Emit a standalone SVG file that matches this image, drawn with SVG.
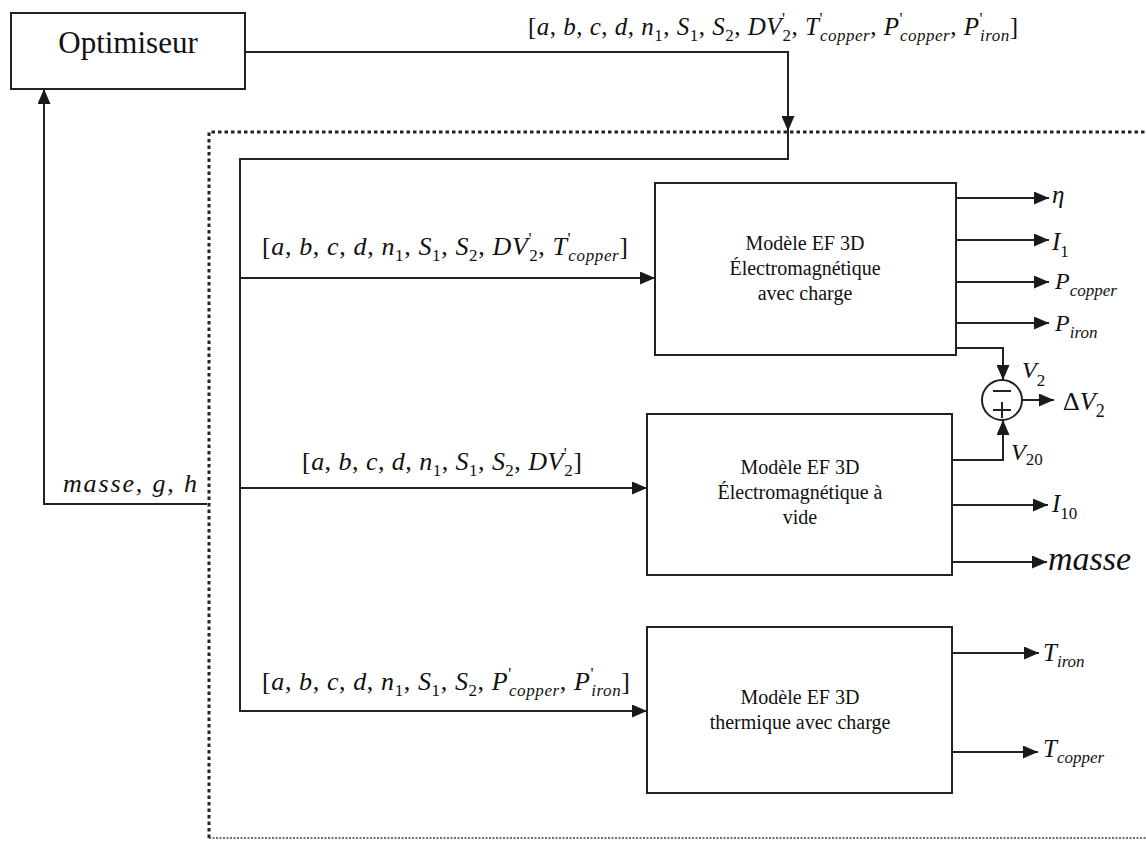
<svg xmlns="http://www.w3.org/2000/svg" width="1146" height="841" viewBox="0 0 1146 841">
<style>
.m{font-family:"Liberation Serif","Times New Roman",serif;font-style:italic;font-size:26px;fill:#111}
.m2{font-size:25px}
.u{font-style:normal}
.s{font-size:17px}
.bx{fill:#fff;stroke:#222;stroke-width:2}
.ln{fill:none;stroke:#222;stroke-width:2}
.ar{marker-end:url(#ah)}
.bt{font-family:"Liberation Serif","Times New Roman",serif;font-size:20px;text-anchor:middle;fill:#111}
.dt{fill:none;stroke:#222;stroke-width:3;stroke-dasharray:3.5 3}
.dt2{fill:none;stroke:#444;stroke-width:1.5;stroke-dasharray:2 1.5}
</style>
<defs>
<marker id="ah" markerUnits="userSpaceOnUse" markerWidth="15" markerHeight="13" refX="15" refY="6.5" orient="auto" viewBox="0 0 15 13"><path d="M0,0 L15,6.5 L0,13 z" fill="#1a1a1a"/></marker>
</defs>
<rect width="1146" height="841" fill="#fff"/>

<g id="boundary">
<path class="dt" d="M209,838 V132 H1146"/>
<path class="dt2" d="M209,838 H1146"/>
</g>

<g id="connectors">
<path class="ln ar" d="M245,52 H788 V131"/>
<path class="ln ar" d="M788,131 V159 H240 V711 H647"/>
<path class="ln ar" d="M240,278 H655"/>
<path class="ln ar" d="M240,488 H647"/>
<path class="ln ar" d="M207,504 H44 V89"/>
<path class="ln ar" d="M956,198 H1049"/>
<path class="ln ar" d="M956,240 H1049"/>
<path class="ln ar" d="M956,282 H1049"/>
<path class="ln ar" d="M956,323 H1049"/>
<path class="ln ar" d="M956,348 H1003 V380"/>
<path class="ln ar" d="M952,460 H1003 V420"/>
<path class="ln ar" d="M1022,400 H1054"/>
<path class="ln ar" d="M952,505 H1048"/>
<path class="ln ar" d="M952,562 H1047"/>
<path class="ln ar" d="M952,653 H1039"/>
<path class="ln ar" d="M952,752 H1038"/>

<text class="m m2" x="528" y="35" textLength="490" lengthAdjust="spacing"><tspan class="u">[</tspan>a<tspan class="u">, </tspan>b<tspan class="u">, </tspan>c<tspan class="u">, </tspan>d<tspan class="u">, </tspan>n<tspan class="u s" dy="6">1</tspan><tspan class="u" dy="-6">, </tspan>S<tspan class="u s" dy="6">1</tspan><tspan class="u" dy="-6">, </tspan>S<tspan class="u s" dy="6">2</tspan><tspan class="u" dy="-6">, </tspan>DV<tspan class="u s" dy="-11">'</tspan><tspan class="u s" dx="-3" dy="17">2</tspan><tspan class="u" dy="-6">, </tspan>T<tspan class="u s" dy="-11">'</tspan><tspan class="s" dx="-3" dy="17">copper</tspan><tspan class="u" dy="-6">, </tspan>P<tspan class="u s" dy="-11">'</tspan><tspan class="s" dx="-3" dy="17">copper</tspan><tspan class="u" dy="-6">, </tspan>P<tspan class="u s" dy="-11">'</tspan><tspan class="s" dx="-3" dy="17">iron</tspan><tspan class="u" dy="-6">]</tspan></text>

<text class="m" x="262" y="255" textLength="366" lengthAdjust="spacing"><tspan class="u">[</tspan>a<tspan class="u">, </tspan>b<tspan class="u">, </tspan>c<tspan class="u">, </tspan>d<tspan class="u">, </tspan>n<tspan class="u s" dy="6">1</tspan><tspan class="u" dy="-6">, </tspan>S<tspan class="u s" dy="6">1</tspan><tspan class="u" dy="-6">, </tspan>S<tspan class="u s" dy="6">2</tspan><tspan class="u" dy="-6">, </tspan>DV<tspan class="u s" dy="-11">'</tspan><tspan class="u s" dx="-3" dy="17">2</tspan><tspan class="u" dy="-6">, </tspan>T<tspan class="u s" dy="-11">'</tspan><tspan class="s" dx="-3" dy="17">copper</tspan><tspan class="u" dy="-6">]</tspan></text>

<text class="m" x="302" y="470" textLength="280" lengthAdjust="spacing"><tspan class="u">[</tspan>a<tspan class="u">, </tspan>b<tspan class="u">, </tspan>c<tspan class="u">, </tspan>d<tspan class="u">, </tspan>n<tspan class="u s" dy="6">1</tspan><tspan class="u" dy="-6">, </tspan>S<tspan class="u s" dy="6">1</tspan><tspan class="u" dy="-6">, </tspan>S<tspan class="u s" dy="6">2</tspan><tspan class="u" dy="-6">, </tspan>DV<tspan class="u s" dy="-11">'</tspan><tspan class="u s" dx="-3" dy="17">2</tspan><tspan class="u" dy="-6">]</tspan></text>

<text class="m" x="262" y="690" textLength="368" lengthAdjust="spacing"><tspan class="u">[</tspan>a<tspan class="u">, </tspan>b<tspan class="u">, </tspan>c<tspan class="u">, </tspan>d<tspan class="u">, </tspan>n<tspan class="u s" dy="6">1</tspan><tspan class="u" dy="-6">, </tspan>S<tspan class="u s" dy="6">1</tspan><tspan class="u" dy="-6">, </tspan>S<tspan class="u s" dy="6">2</tspan><tspan class="u" dy="-6">, </tspan>P<tspan class="u s" dy="-11">'</tspan><tspan class="s" dx="-3" dy="17">copper</tspan><tspan class="u" dy="-6">, </tspan>P<tspan class="u s" dy="-11">'</tspan><tspan class="s" dx="-3" dy="17">iron</tspan><tspan class="u" dy="-6">]</tspan></text>

<text class="m" x="63" y="492" textLength="134" lengthAdjust="spacing">masse<tspan class="u">, </tspan>g<tspan class="u">, </tspan>h</text>

<text class="m" x="1052" y="203" style="font-size:25px">η</text>
<text class="m" x="1052" y="250" style="font-size:25px">I<tspan class="u" style="font-size:17px" dy="7">1</tspan></text>
<text class="m" x="1055" y="289" style="font-size:24px">P<tspan style="font-size:17px" dy="7">copper</tspan></text>
<text class="m" x="1055" y="331" style="font-size:24px">P<tspan style="font-size:17px" dy="7">iron</tspan></text>
<text class="m" x="1022" y="378" style="font-size:24px">V<tspan class="u" style="font-size:17px" dy="8">2</tspan></text>
<text class="m" x="1063" y="410" style="font-size:26px"><tspan class="u">Δ</tspan>V<tspan class="u" style="font-size:18px" dy="7">2</tspan></text>
<text class="m" x="1011" y="460" style="font-size:24px">V<tspan class="u" style="font-size:17px" dy="5">20</tspan></text>
<text class="m" x="1052" y="512" style="font-size:25px">I<tspan class="u" style="font-size:17px" dy="7">10</tspan></text>
<text class="m" x="1048" y="570" style="font-size:34px">masse</text>
<text class="m" x="1043" y="661" style="font-size:25px">T<tspan style="font-size:17px" dy="6">iron</tspan></text>
<text class="m" x="1043" y="757" style="font-size:25px">T<tspan style="font-size:17px" dy="6">copper</tspan></text>
</g>

<g id="optimiseur">
<rect class="bx" x="11" y="13" width="234" height="76"/>
<text x="128" y="53" font-family="Liberation Serif, Times New Roman, serif" font-size="31" text-anchor="middle" fill="#111">Optimiseur</text>
</g>

<g id="box-charge">
<rect class="bx" x="655" y="183" width="301" height="172"/>
<text class="bt" x="805" y="250">Modèle EF 3D</text>
<text class="bt" x="805" y="275">Électromagnétique</text>
<text class="bt" x="805" y="300">avec charge</text>
</g>

<g id="box-vide">
<rect class="bx" x="647" y="414" width="305" height="161"/>
<text class="bt" x="800" y="474">Modèle EF 3D</text>
<text class="bt" x="800" y="499">Électromagnétique à</text>
<text class="bt" x="800" y="524">vide</text>
</g>

<g id="box-thermique">
<rect class="bx" x="647" y="627" width="305" height="166"/>
<text class="bt" x="800" y="704">Modèle EF 3D</text>
<text class="bt" x="800" y="729">thermique avec charge</text>
</g>

<g id="sum">
<circle cx="1002" cy="400" r="20" fill="#fff" stroke="#222" stroke-width="2"/>
<path class="ln" d="M993,391 H1011 M993,410 H1011 M1002,402 V418"/>
</g>
</svg>
